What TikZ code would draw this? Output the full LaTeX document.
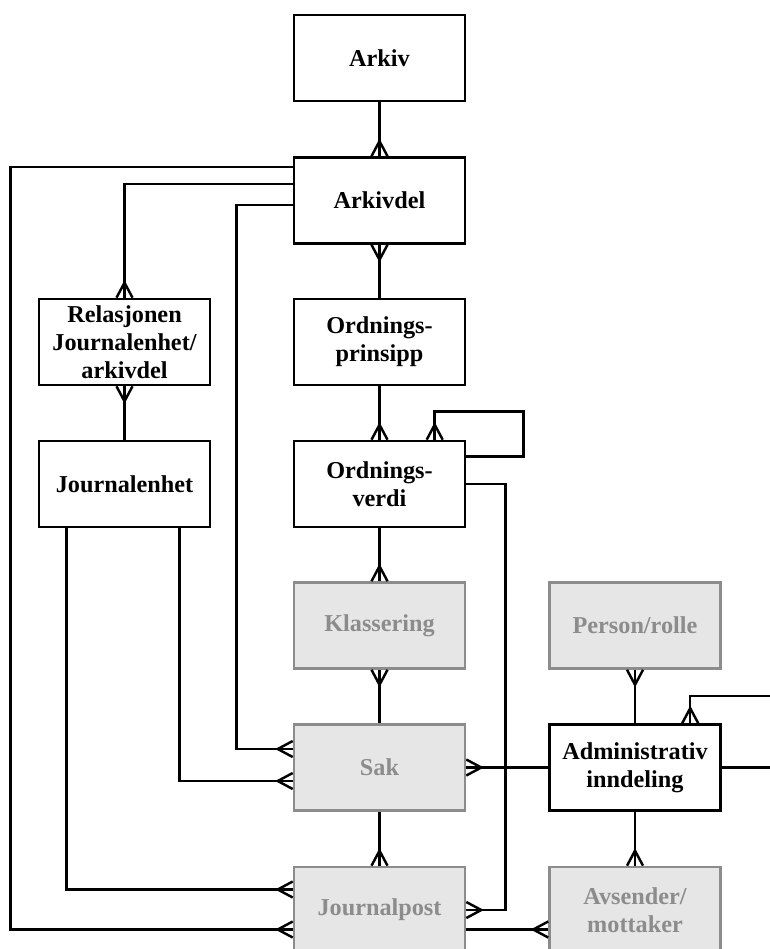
\documentclass[tikz,border=0pt]{standalone}
\usepackage{fontspec}
\setmainfont{Liberation Serif}
\usetikzlibrary{calc, decorations.markings}
\definecolor{boxfill}{HTML}{E6E6E6}
\definecolor{boxgrey}{HTML}{8C8C8C}

\tikzset{
  entity/.style={draw, line width=1.5pt, minimum width=3.42cm,
    minimum height=1.72cm, align=center, inner sep=2pt,
    font=\fontsize{13.8}{16}\selectfont\bfseries},
  faded/.style={entity, draw=boxgrey, fill=boxfill, text=boxgrey},
  link/.style={line width=1.4pt},
  many end/.style={postaction={decorate, decoration={markings,
    mark=at position 1 with {\draw[link] (0,0.16cm) -- (-0.3cm,0) -- (0,-0.16cm);}}}},
  many start/.style={postaction={decorate, decoration={markings,
    mark=at position 0 with {\draw[link] (0,0.16cm) -- (0.3cm,0) -- (0,-0.16cm);}}}}
}

\begin{document}
\begin{tikzpicture}[x=0.02cm, y=-0.02cm]
    \useasboundingbox (0,0) rectangle (770,949);
    % entities
    \node[entity] (arkiv) at (379.5,58) {Arkiv};
    \node[entity] (arkivdel) at (379.5,200.5) {Arkivdel};
    \node[entity] (relasjon) at (124.5,342) {Relasjonen\\Journalenhet/\\arkivdel};
    \node[entity] (prinsipp) at (379.5,342) {Ordnings-\\prinsipp};
    \node[entity] (journalenhet) at (124.5,484) {Journalenhet};
    \node[entity] (verdi) at (379.5,484) {Ordnings-\\verdi};
    \node[faded] (klassering) at (379.5,625.5) {Klassering};
    \node[faded] (person) at (635,625.5) {Person/rolle};
    \node[faded] (sak) at (379.5,767.5) {Sak};
    \node[entity] (admin) at (635,767.5) {Administrativ\\inndeling};
    \node[faded] (journalpost) at (379.5,910) {Journalpost};
    \node[faded] (avsender) at (635,910) {Avsender/\\mottaker};
    \coordinate (adminup) at (770,696);
    \coordinate (adminright) at (770,767.5);
    % middle column
    \draw[link, many end] (arkiv.south) -- (arkivdel.north);
    \draw[link, many start] (arkivdel.south) -- (prinsipp.north);
    \draw[link, many end] (prinsipp.south) -- (verdi.north);
    \draw[link, many end] ($(verdi.north east)+(0,17)$) -| ($(verdi.north east)+(57,-28)$)
      -| ($(verdi.north west)+(142,0)$);
    \draw[link, many end] (verdi.east) -| ($(journalpost.east)+(39,0)$) -- (journalpost.east);
    \draw[link, many end] (verdi.south) -- (klassering.north);
    \draw[link, many start] (klassering.south) -- (sak.north);
    \draw[link, many end] (sak.south) -- (journalpost.north);
    % lines from arkivdel
    \draw[link, many end] ($(arkivdel.north west)+(0,11)$) -| ($(journalpost.west)+(-282,19.5)$)
      -- ($(journalpost.west)+(0,19.5)$);
    \draw[link, many end] ($(arkivdel.north west)+(0,28)$) -| (relasjon.north);
    \draw[link, many end] ($(arkivdel.north west)+(0,49)$) -| ($(sak.west)+(-56,-18.5)$)
      -- ($(sak.west)+(0,-18.5)$);
    % journalenhet
    \draw[link, many start] (relasjon.south) -- (journalenhet.north);
    \draw[link, many end] ($(journalenhet.south west)+(29,0)$) |- ($(journalpost.west)+(0,-20.5)$);
    \draw[link, many end] ($(journalenhet.south west)+(142,0)$) |- ($(sak.west)+(0,13.5)$);
    % right column
    \draw[link, many start] (sak.east) -- (admin.west);
    \draw[link, many start] (person.south) -- (admin.north);
    \draw[link, many start] ($(admin.north west)+(142,0)$) |- (adminup);
    \draw[link] (admin.east) -- (adminright);
    \draw[link, many end] (admin.south) -- (avsender.north);
    \draw[link, many end] ($(journalpost.east)+(0,19.5)$) -- ($(avsender.west)+(0,19.5)$);
\end{tikzpicture}
\end{document}
